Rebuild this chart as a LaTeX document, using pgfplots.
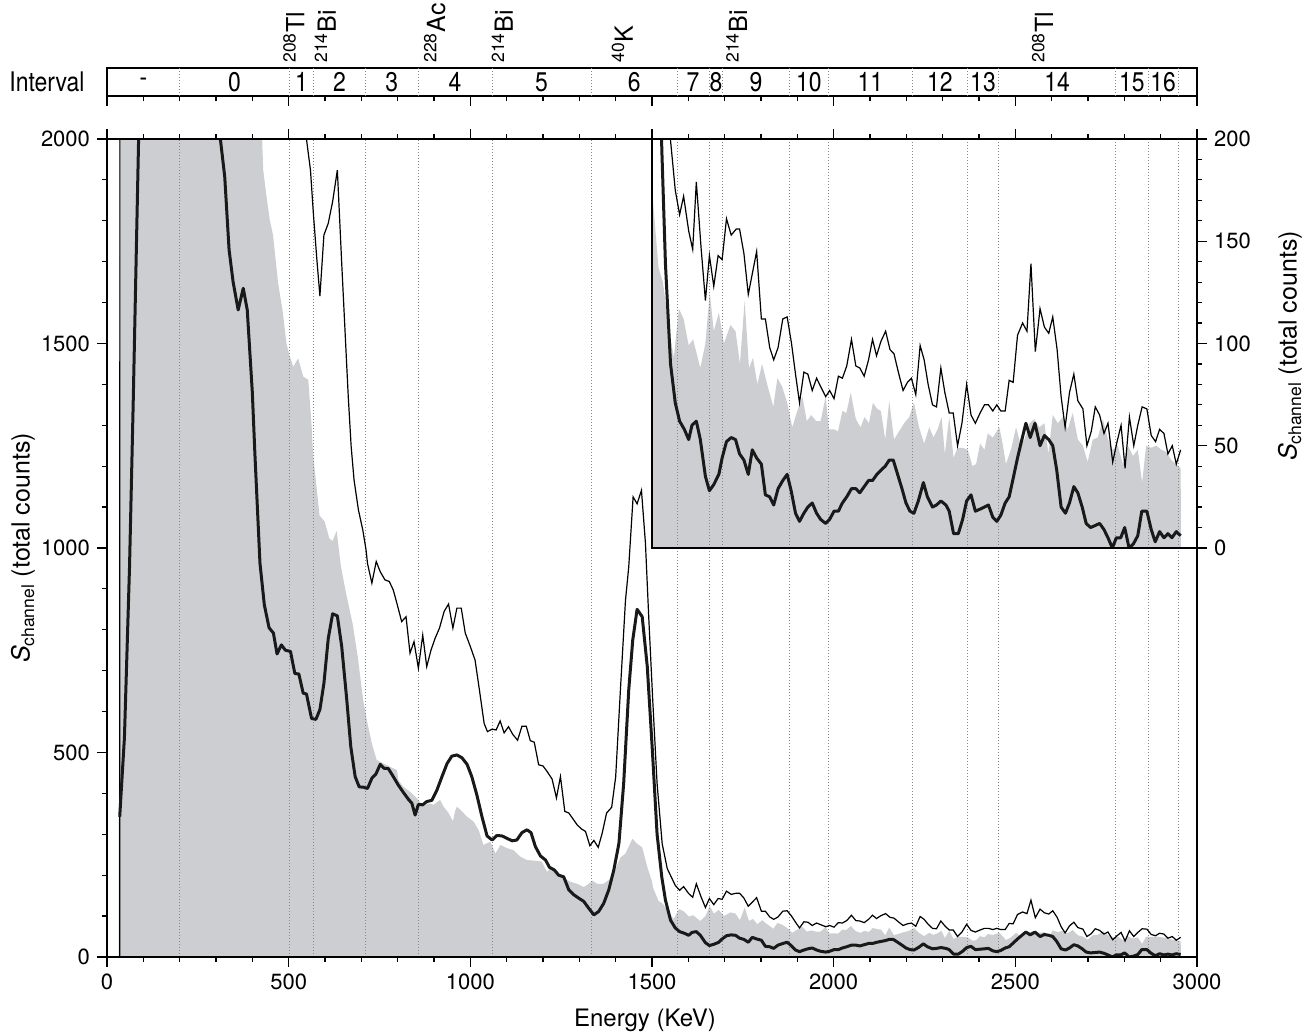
\documentclass[border=0pt]{standalone}
\usepackage{pgfplots}
\pgfplotsset{compat=1.18}
\usepackage{pgfplotstable}
\usepackage{fontspec}
\setmainfont{TeX Gyre Heros}
\usepackage{graphicx}
\definecolor{fillgray}{RGB}{205,206,209}
\definecolor{dotgray}{RGB}{135,135,135}

\pgfplotstableread{
x y
32 0
35 3000
415 2300
430 1924
439 1859
448 1802
457 1765
471 1647
483 1582
494 1500
503 1468
513 1443
526 1464
540 1419
554 1411
563 1300
567 1231
585 1079
599 1065
612 1023
621 1017
632 1042
644 954
658 889
676 815
690 735
705 628
717 571
729 522
742 482
761 473
779 465
798 457
802 432
816 416
834 404
853 388
871 368
885 376
899 372
917 384
926 368
940 352
952 332
958 356
963 368
977 356
991 343
1009 331
1023 310
1036 274
1055 282
1069 253
1083 274
1101 266
1119 261
1138 245
1156 237
1184 235
1197 233
1211 208
1225 220
1239 208
1257 192
1275 184
1294 179
1312 171
1326 179
1335 187
1349 179
1367 179
1386 192
1400 216
1413 243
1427 253
1446 289
1459 277
1473 268
1487 220
1500 185
1503 169
1518 137
1530 130
1546 108
1560 93
1574 117
1587 112
1601 99
1613 102
1633 88
1647 100
1659 125
1670 106
1684 115
1698 100
1716 109
1730 106
1742 90
1755 121
1767 88
1778 93
1790 80
1803 90
1817 80
1834 69
1845 83
1858 79
1872 71
1886 59
1900 67
1914 74
1926 62
1938 65
1952 62
1964 62
1978 74
1987 58
2001 58
2012 57
2024 67
2035 66
2047 76
2061 63
2074 59
2085 64
2097 61
2108 71
2120 68
2130 67
2142 53
2153 72
2166 53
2180 57
2194 61
2208 64
2221 71
2235 59
2249 51
2263 59
2275 54
2286 58
2297 64
2306 46
2318 64
2330 44
2341 49
2355 49
2369 48
2382 40
2392 41
2403 51
2415 48
2424 56
2438 54
2456 59
2465 51
2474 41
2488 48
2502 59
2514 51
2525 53
2539 61
2552 63
2566 59
2580 61
2591 46
2603 65
2617 61
2631 64
2644 58
2658 66
2672 53
2686 50
2699 42
2713 53
2727 54
2741 63
2755 53
2768 48
2782 50
2796 41
2810 50
2824 45
2837 48
2849 32
2860 50
2874 49
2888 50
2902 48
2915 47
2929 43
2943 41
2955 39
2956 0
}\grayd

\pgfplotstableread{
x y
35 0
36 4000
540 2100
549 2000
554 1965
560 1924
568 1818
577 1712
586 1616
597 1765
609 1794
621 1847
634 1924
646 1696
655 1533
664 1370
672 1248
680 1166
692 1093
704 1044
713 995
717 962
729 914
741 967
752 942
765 922
777 918
788 897
799 861
811 820
823 832
834 743
845 771
857 706
869 787
880 710
892 751
903 779
915 804
928 845
940 863
952 804
963 853
975 853
986 792
1000 759
1013 726
1025 653
1038 571
1047 551
1060 557
1071 555
1082 577
1093 548
1105 563
1117 544
1130 530
1142 564
1154 564
1165 529
1176 525
1188 470
1200 467
1211 454
1225 435
1237 389
1248 441
1260 356
1271 352
1283 337
1294 323
1306 313
1317 307
1329 272
1340 285
1352 268
1363 303
1375 352
1389 366
1400 440
1413 652
1427 872
1436 954
1448 1125
1459 1108
1471 1141
1482 1011
1491 831
1502 628
1514 424
1528 277
1542 216
1556 190
1564 175
1576 163
1587 172
1601 155
1612 146
1622 179
1635 147
1647 121
1658 143
1670 128
1682 143
1693 141
1705 161
1718 153
1732 156
1741 156
1753 144
1765 124
1788 145
1801 112
1812 112
1824 98
1835 92
1847 98
1860 112
1872 113
1884 100
1895 85
1906 71
1918 86
1929 85
1941 77
1953 83
1964 79
1978 74
1989 77
2001 73
2013 84
2024 83
2036 89
2049 102
2061 89
2072 88
2084 84
2096 92
2107 102
2118 94
2130 101
2143 106
2155 97
2166 95
2178 86
2191 77
2203 81
2214 83
2226 75
2238 99
2249 92
2260 80
2272 70
2283 69
2295 88
2306 76
2318 66
2329 66
2341 50
2353 61
2366 80
2378 65
2390 61
2403 66
2415 70
2426 70
2438 67
2449 70
2460 67
2472 67
2483 82
2494 81
2506 104
2520 110
2532 106
2543 139
2555 96
2568 117
2580 108
2592 105
2603 113
2615 97
2626 74
2637 59
2649 76
2661 85
2672 72
2686 68
2697 50
2709 57
2720 69
2732 65
2744 56
2755 61
2768 42
2780 52
2791 60
2802 39
2814 64
2826 50
2837 60
2849 69
2862 68
2874 55
2886 52
2897 58
2909 56
2920 46
2932 50
2943 41
2955 48
}\thind

\pgfplotstableread{
x y
35 343
48 537
62 954
72 1350
87 2000
100 2600
200 3200
300 2200
312 2000
324 1908
336 1729
347 1651
361 1582
375 1635
386 1582
400 1380
407 1231
421 963
433 861
446 805
458 792
468 741
480 763
491 750
505 747
517 693
528 692
540 645
549 643
563 583
575 581
586 605
597 669
609 779
621 839
634 834
646 759
660 628
671 514
683 441
694 416
706 415
717 412
729 437
740 447
752 471
763 461
774 461
788 441
802 420
816 402
830 385
839 376
848 347
857 373
869 372
880 380
894 383
908 408
922 441
936 473
949 491
963 494
977 487
991 471
1004 441
1018 396
1032 343
1046 296
1060 286
1073 297
1087 296
1101 290
1115 284
1128 286
1142 304
1156 311
1167 304
1179 270
1193 247
1207 237
1218 219
1231 213
1243 200
1257 196
1271 164
1285 152
1298 144
1312 136
1326 119
1340 103
1353 111
1367 131
1381 164
1395 213
1409 278
1422 424
1436 653
1447 775
1459 850
1473 832
1487 710
1501 505
1514 300
1527 195
1537 139
1551 90
1564 71
1576 62
1589 58
1601 53
1610 60
1622 62
1633 53
1647 35
1658 28
1670 31
1684 36
1693 44
1705 52
1718 54
1730 53
1741 46
1753 43
1765 36
1776 48
1788 44
1801 41
1812 26
1824 25
1835 21
1847 29
1860 33
1872 36
1883 28
1895 17
1906 13
1918 17
1929 20
1941 22
1953 17
1964 14
1978 12
1989 14
2001 18
2013 18
2024 22
2036 25
2049 29
2061 29
2072 27
2084 30
2096 33
2107 33
2119 36
2130 38
2142 40
2153 43
2164 43
2176 36
2188 29
2199 22
2210 18
2221 17
2233 23
2247 32
2258 25
2272 20
2283 21
2295 23
2309 21
2318 18
2330 7
2343 7
2355 14
2366 23
2378 26
2390 18
2403 19
2415 20
2426 21
2438 15
2449 13
2460 16
2472 22
2483 25
2494 34
2506 44
2518 53
2529 61
2541 54
2554 61
2568 50
2580 55
2592 53
2603 50
2614 38
2626 20
2638 17
2649 22
2661 30
2672 27
2684 20
2695 12
2707 10
2720 11
2732 12
2744 9
2755 5
2767 0
2778 5
2790 5
2801 10
2813 0
2825 2
2837 6
2848 18
2862 18
2874 9
2885 3
2897 8
2909 5
2920 7
2931 5
2943 8
2955 6
}\thickd

\pgfplotstableread{
x ym yi ys
200 2000 200 1
503 2000 200 1
567 2000 200 1
712 2000 200 1
856 2000 200 1
1060 2000 200 1
1333 2000 200 1
1569 2000 200 1
1658 2000 200 1
1694 2000 200 1
1878 2000 200 1
1987 2000 200 1
2216 2000 200 1
2368 2000 200 1
2454 2000 200 1
2777 2000 200 1
2866 2000 200 1
2949 2000 200 1
}\bounds

\pgfplotsset{
  every axis/.append style={
    scale only axis,
    axis line style={line width=1pt},
    every tick/.style={black, line width=0.6pt},
    tick align=outside,
    major tick length=5pt,
    minor tick length=2.6pt,
    tick label style={font=\fontsize{11}{13}\selectfont},
    /pgf/number format/assume math mode=true,
    /pgf/number format/1000 sep={},
  },
}
\newcommand{\ivl}[1]{\scalebox{0.85}[1]{#1}}

\begin{document}
\begin{tikzpicture}
\path[use as bounding box] (0,0) rectangle (657pt,518pt);

% main axis
\begin{axis}[name=main, at={(53.5pt,39.5pt)}, anchor=south west,
  width=545pt, height=409pt,
  xmin=0, xmax=3000, ymin=0, ymax=2000,
  xtick={0,500,...,3000}, ytick={0,500,...,2000},
  minor x tick num=4, minor y tick num=4,
  xtick pos=both, xticklabel pos=left,
  ytick pos=left, axis on top]
\addplot[fill=fillgray, draw=none] table[x=x,y=y]{\grayd} \closedcycle;
\addplot[ycomb, dotgray, densely dotted, line width=0.5pt, mark=none] table[x=x,y=ym]{\bounds};
\addplot[black, line width=0.6pt, mark=none] table[x=x,y=y]{\thind};
\addplot[black!90, line width=1.5pt, mark=none, line join=round] table[x=x,y=y]{\thickd};
\end{axis}

% inset axis
\begin{axis}[name=inset, at={(main.north east)}, anchor=north east,
  width=272.5pt, height=204.5pt,
  xmin=1500, xmax=3000, ymin=0, ymax=200,
  xtick=\empty, ytick={0,50,...,200}, minor y tick num=4,
  ytick pos=right, yticklabel pos=right,
  axis background/.style={fill=white}, axis on top]
\addplot[fill=fillgray, draw=none, restrict x to domain=1500:3000] table[x=x,y=y]{\grayd} \closedcycle;
\addplot[ycomb, dotgray, densely dotted, line width=0.5pt, mark=none, restrict x to domain=1500:3000] table[x=x,y=yi]{\bounds};
\addplot[black, line width=0.6pt, mark=none, restrict x to domain=1500:3000] table[x=x,y=y]{\thind};
\addplot[black!90, line width=1.5pt, mark=none, line join=round, restrict x to domain=1500:3000] table[x=x,y=y]{\thickd};
\end{axis}

% interval strip
\begin{axis}[name=strip, at={(53.5pt,470pt)}, anchor=south west,
  width=545pt, height=14pt,
  xmin=0, xmax=3000, ymin=0, ymax=1,
  xtick={0,500,...,3000}, minor x tick num=4, xtick pos=left,
  xticklabels={}, xticklabel style={opacity=0}, ytick=\empty, clip mode=individual]
\addplot[ycomb, dotgray, densely dotted, line width=0.5pt, mark=none] table[x=x,y=ys]{\bounds};
\begin{scope}[every node/.style={font=\fontsize{13.5}{15}\selectfont, inner sep=0pt}]
\node at (axis cs:100,0.5) {\ivl{-}};
\node at (axis cs:351,0.5) {\ivl{0}};
\node at (axis cs:535,0.5) {\ivl{1}};
\node at (axis cs:640,0.5) {\ivl{2}};
\node at (axis cs:784,0.5) {\ivl{3}};
\node at (axis cs:958,0.5) {\ivl{4}};
\node at (axis cs:1196,0.5) {\ivl{5}};
\node at (axis cs:1451,0.5) {\ivl{6}};
\node at (axis cs:1613,0.5) {\ivl{7}};
\node at (axis cs:1676,0.5) {\ivl{8}};
\node at (axis cs:1786,0.5) {\ivl{9}};
\node at (axis cs:1932,0.5) {\ivl{10}};
\node at (axis cs:2101,0.5) {\ivl{11}};
\node at (axis cs:2292,0.5) {\ivl{12}};
\node at (axis cs:2411,0.5) {\ivl{13}};
\node at (axis cs:2615,0.5) {\ivl{14}};
\node at (axis cs:2821,0.5) {\ivl{15}};
\node at (axis cs:2907,0.5) {\ivl{16}};
\end{scope}
\begin{scope}[every node/.style={font=\fontsize{12.5}{14}\selectfont, rotate=90, anchor=west, inner sep=2.5pt}]
\node at (axis cs:514,1) {\textsuperscript{208}Tl};
\node at (axis cs:601,1) {\textsuperscript{214}Bi};
\node at (axis cs:902,1) {\textsuperscript{228}Ac};
\node at (axis cs:1088,1) {\textsuperscript{214}Bi};
\node at (axis cs:1418,1) {\textsuperscript{40}K};
\node at (axis cs:1733,1) {\textsuperscript{214}Bi};
\node at (axis cs:2575,1) {\textsuperscript{208}Tl};
\end{scope}
\end{axis}

\node[font=\fontsize{13.5}{15}\selectfont] at (23.5pt,477pt) {\ivl{Interval}};
\node[font=\fontsize{12}{14}\selectfont] at (322.5pt,8pt) {Energy (KeV)};
\node[font=\fontsize{12.5}{14}\selectfont, rotate=90] at (11.5pt,244pt) {\textit{S}\textsubscript{channel} (total counts)};
\node[font=\fontsize{12.5}{14}\selectfont, rotate=90] at (645pt,345pt) {\textit{S}\textsubscript{channel} (total counts)};
\end{tikzpicture}
\end{document}
